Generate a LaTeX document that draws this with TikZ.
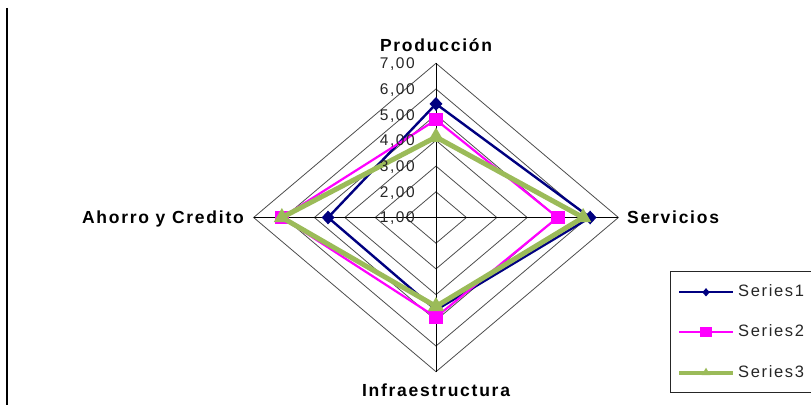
\documentclass[tikz,border=0pt]{standalone}
\usepackage{fontspec}
\newfontfamily\chartfont[LetterSpace=10]{Liberation Sans}
\usetikzlibrary{shapes.geometric}
\definecolor{serieblue}{HTML}{000080}
\definecolor{seriepink}{HTML}{FF00FF}
\definecolor{seriegreen}{HTML}{9BBB59}

\begin{document}
\begin{tikzpicture}
    [x=1pt, y=-1pt,
    spoke/.style={draw=black, line width=1pt},
    ring/.style={draw=black!70, line width=0.8pt},
    ticklabel/.style={anchor=base east, inner sep=0pt, text=black!85, font=\chartfont\fontsize{15.5}{16}\selectfont},
    catlabel/.style={inner sep=0pt, font=\chartfont\bfseries\fontsize{17.5}{18}\selectfont},
    legtext/.style={anchor=base west, inner sep=0pt, text=black!85, font=\chartfont\fontsize{16.5}{17}\selectfont},
    serie1/.style={draw=serieblue, line width=2.4pt, line join=round},
    serie2/.style={draw=seriepink, line width=2.2pt, line join=round},
    serie3/.style={draw=seriegreen, line width=5pt, line join=round},
    mark1/.style={diamond, fill=serieblue, inner sep=0pt, minimum width=13pt, minimum height=14pt},
    mark2/.style={rectangle, fill=seriepink, inner sep=0pt, minimum width=14pt, minimum height=13pt},
    mark3/.style={regular polygon, regular polygon sides=3, fill=seriegreen, inner sep=0pt, minimum size=19pt}]
\useasboundingbox (0,0) rectangle (811,414);
\draw[line width=1.3pt] (7,8) -- (7,405);
% radar grid, centre = 1,00
\begin{scope}[shift={(436,217.5)}, x=30.4pt, y=25.7pt]
\draw[ring] (0,1) -- (1,0) -- (0,-1) -- (-1,0) -- cycle;
\draw[ring] (0,2) -- (2,0) -- (0,-2) -- (-2,0) -- cycle;
\draw[ring] (0,3) -- (3,0) -- (0,-3) -- (-3,0) -- cycle;
\draw[ring] (0,4) -- (4,0) -- (0,-4) -- (-4,0) -- cycle;
\draw[ring] (0,5) -- (5,0) -- (0,-5) -- (-5,0) -- cycle;
\draw[ring] (0,6) -- (6,0) -- (0,-6) -- (-6,0) -- cycle;
\draw[spoke] (0,6) -- (0,-6);
\draw[spoke] (-6,0) -- (6,0);
% Series1
\coordinate (prod1) at (0,4.42);
\coordinate (serv1) at (5.07,0);
\coordinate (infra1) at (0,-3.6);
\coordinate (ahorro1) at (-3.55,0);
\draw[serie1] (prod1) -- (serv1) -- (infra1) -- (ahorro1) -- cycle;
\node[mark1] (prod1m) at (prod1) {};
\node[mark1] (serv1m) at (serv1) {};
\node[mark1] (infra1m) at (infra1) {};
\node[mark1] (ahorro1m) at (ahorro1) {};
% Series2
\coordinate (prod2) at (0,3.8);
\coordinate (serv2) at (4.0,0);
\coordinate (infra2) at (0,-3.88);
\coordinate (ahorro2) at (-5.07,0);
\draw[serie2] (prod2) -- (serv2) -- (infra2) -- (ahorro2) -- cycle;
\node[mark2] (prod2m) at (prod2) {};
\node[mark2] (serv2m) at (serv2) {};
\node[mark2] (infra2m) at (infra2) {};
\node[mark2] (ahorro2m) at (ahorro2) {};
% Series3
\coordinate (prod3) at (0,3.13);
\coordinate (serv3) at (4.84,0);
\coordinate (infra3) at (0,-3.46);
\coordinate (ahorro3) at (-5.07,0);
\draw[serie3] (prod3) -- (serv3) -- (infra3) -- (ahorro3) -- cycle;
\node[mark3] (prod3m) at (prod3) {};
\node[mark3] (serv3m) at (serv3) {};
\node[mark3] (infra3m) at (infra3) {};
\node[mark3] (ahorro3m) at (ahorro3) {};
\end{scope}
% axis values
\node[ticklabel] (t7) at (415,69) {7,00};
\node[ticklabel] (t6) at (415,94.6) {6,00};
\node[ticklabel] (t5) at (415,120.2) {5,00};
\node[ticklabel] (t4) at (415,145.8) {4,00};
\node[ticklabel] (t3) at (415,171.4) {3,00};
\node[ticklabel] (t2) at (415,197) {2,00};
\node[ticklabel] (t1) at (415,222.6) {1,00};
% categories
\node[catlabel, anchor=base] (prod) at (436,52) {Producción};
\node[catlabel, anchor=base west] (serv) at (627,224) {Servicios};
\node[catlabel, anchor=base east] (ahorro) at (244,224) {Ahorro y Credito};
\node[catlabel, anchor=base] (infra) at (436,396) {Infraestructura};
% legend
\draw[black!85, line width=0.9pt] (670,271) rectangle (812,392);
\draw[serie1, line width=1.7pt] (679,292.3) -- (733,292.3)
    node[midway, mark1, minimum width=8pt, minimum height=9pt] (leg1m) {};
\draw[serie2, line width=1.7pt] (679,331.7) -- (733,331.7)
    node[midway, mark2, minimum width=12pt, minimum height=10pt] (leg2m) {};
\draw[serie3, line width=4.2pt] (679,372.7) -- (733,372.7)
    node[midway, mark3, minimum size=10pt] (leg3m) {};
\node[legtext] (leg1) at (738,296.7) {Series1};
\node[legtext] (leg2) at (738,336.1) {Series2};
\node[legtext] (leg3) at (738,377.1) {Series3};
\end{tikzpicture}
\end{document}
